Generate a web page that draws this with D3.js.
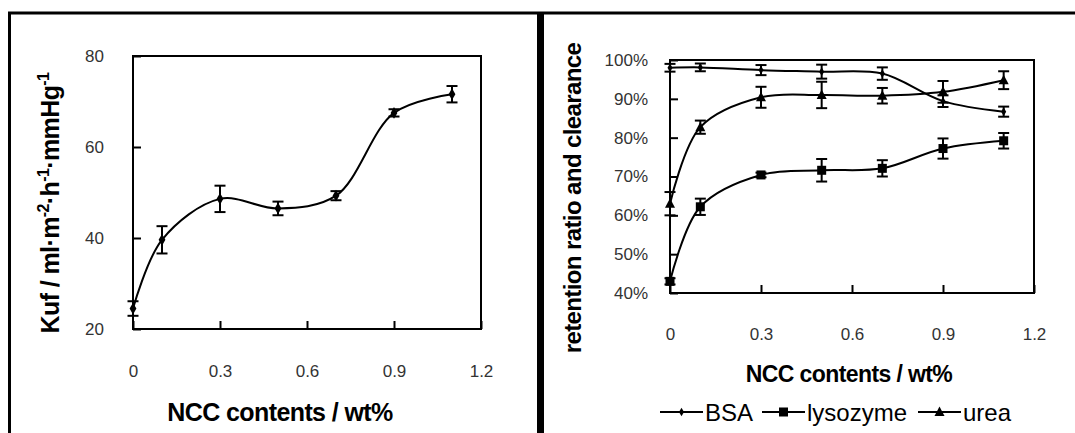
<!DOCTYPE html>
<html>
<head>
<meta charset="utf-8">
<script src="https://cdn.jsdelivr.net/npm/d3@7"></script>
<style>
  body { margin: 0; background: #fff; }
  svg text { font-family: "Liberation Sans", Arial, sans-serif; }
  .tick text { font-size: 17px; fill: #333; }
  .axis path { display: none; }
  .axis line { stroke: #000; stroke-width: 2; }
</style>
</head>
<body>
<script>
// data
var ncc = [0, 0.1, 0.3, 0.5, 0.7, 0.9, 1.1];

var kuf = [24.5, 39.6, 48.6, 46.5, 49.3, 67.5, 71.6];
var kufErr = [1.6, 3.0, 2.9, 1.5, 1.0, 0.8, 1.8];

var bsa = [98.0, 98.1, 97.4, 97.0, 96.5, 89.4, 86.7];
var bsaErr = [1.0, 1.0, 1.3, 1.8, 1.6, 1.5, 1.3];
var lysozyme = [43.0, 62.2, 70.4, 71.6, 72.1, 77.2, 79.2];
var lysozymeErr = [0.8, 2.1, 0.6, 2.9, 2.1, 2.6, 2.0];
var urea = [63.0, 82.7, 90.4, 91.0, 90.8, 91.8, 94.8];
var ureaErr = [3.0, 1.7, 2.7, 3.4, 2.0, 2.8, 2.3];

var xTicks = [0, 0.3, 0.6, 0.9, 1.2];
var kufTicks = [20, 40, 60, 80];
var pctTicks = [40, 50, 60, 70, 80, 90, 100];
var seriesNames = ["BSA", "lysozyme", "urea"];

var W = 1075, H = 433;

var svg = d3.select("body").append("svg")
    .attr("width", W)
    .attr("height", H);

// outer frame lines
svg.append("line").attr("x1", 8).attr("x2", W).attr("y1", 13).attr("y2", 13)
    .attr("stroke", "#000").attr("stroke-width", 3);
svg.append("line").attr("x1", 9.5).attr("x2", 9.5).attr("y1", 12).attr("y2", H)
    .attr("stroke", "#000").attr("stroke-width", 3);
svg.append("line").attr("x1", 540.5).attr("x2", 540.5).attr("y1", 12).attr("y2", H)
    .attr("stroke", "#000").attr("stroke-width", 7);

// marker shapes
function marker(g, type, x, y) {
    if (type == "diamond") {
        g.append("path").attr("d", d3.symbol(d3.symbolDiamond, 40)()).attr("transform", "translate(" + x + "," + y + ")").attr("fill", "#000");
    } else if (type == "smalldiamond") {
        g.append("path").attr("d", d3.symbol(d3.symbolDiamond, 22)()).attr("transform", "translate(" + x + "," + y + ")").attr("fill", "#000");
    } else if (type == "square") {
        g.append("rect").attr("x", x - 4.5).attr("y", y - 4.5).attr("width", 9).attr("height", 9).attr("fill", "#000");
    } else {
        g.append("path").attr("d", "M" + x + "," + (y - 5.5) + "L" + (x + 5) + "," + (y + 4) + "L" + (x - 5) + "," + (y + 4) + "Z").attr("fill", "#000");
    }
}

function drawSeries(g, x, y, vals, errs, type) {
    var pts = ncc.map(function(d, i) { return [x(d), y(vals[i])]; });
    g.append("path")
        .attr("d", d3.line().curve(d3.curveCatmullRom.alpha(0.5))(pts))
        .attr("fill", "none").attr("stroke", "#000").attr("stroke-width", 2);
    ncc.forEach(function(d, i) {
        var cx = x(d), y0 = y(vals[i] - errs[i]), y1 = y(vals[i] + errs[i]);
        g.append("line").attr("x1", cx).attr("x2", cx).attr("y1", y0).attr("y2", y1)
            .attr("stroke", "#000").attr("stroke-width", 2);
        [y0, y1].forEach(function(yy) {
            g.append("line").attr("x1", cx - 5.5).attr("x2", cx + 5.5).attr("y1", yy).attr("y2", yy)
                .attr("stroke", "#000").attr("stroke-width", 2);
        });
        marker(g, type, cx, y(vals[i]));
    });
}

// ---------- left panel ----------
var L = {x0: 133, x1: 481, y0: 56, y1: 329};
var xL = d3.scaleLinear().domain([0, 1.2]).range([L.x0, L.x1]);
var yL = d3.scaleLinear().domain([20, 80]).range([L.y1, L.y0]);

var gl = svg.append("g");
gl.append("g").attr("class", "axis")
    .attr("transform", "translate(0," + L.y1 + ")")
    .call(d3.axisBottom(xL).tickValues(xTicks).tickSizeInner(-8).tickSizeOuter(0).tickPadding(36)
        .tickFormat(function(d) { return d == 0 ? "0" : d3.format(".1f")(d); }));
gl.append("g").attr("class", "axis")
    .attr("transform", "translate(" + L.x0 + ",0)")
    .call(d3.axisLeft(yL).tickValues(kufTicks).tickSizeInner(-8).tickSizeOuter(0).tickPadding(29));
gl.append("rect").attr("x", L.x0).attr("y", L.y0).attr("width", L.x1 - L.x0).attr("height", L.y1 - L.y0)
    .attr("fill", "none").attr("stroke", "#000").attr("stroke-width", 2);

drawSeries(gl, xL, yL, kuf, kufErr, "diamond");

gl.append("text").attr("x", 280).attr("y", 421).attr("text-anchor", "middle")
    .attr("font-size", 25).attr("font-weight", "bold").attr("letter-spacing", -0.6)
    .text("NCC contents / wt%");

var yt = gl.append("text").attr("transform", "translate(59,203) rotate(-90)")
    .attr("text-anchor", "middle").attr("font-size", 25).attr("font-weight", "bold").attr("letter-spacing", -0.6);
yt.append("tspan").text("Kuf / ml·m");
yt.append("tspan").attr("dy", -10).attr("font-size", 16).text("-2");
yt.append("tspan").attr("dy", 10).text("·h");
yt.append("tspan").attr("dy", -10).attr("font-size", 16).text("-1");
yt.append("tspan").attr("dy", 10).text("·mmHg");
yt.append("tspan").attr("dy", -10).attr("font-size", 16).text("-1");

// ---------- right panel ----------
var R = {x0: 670, x1: 1034, y0: 60, y1: 293};
var xR = d3.scaleLinear().domain([0, 1.2]).range([R.x0, R.x1]);
var yR = d3.scaleLinear().domain([40, 100]).range([R.y1, R.y0]);

var gr = svg.append("g");
gr.append("g").attr("class", "axis")
    .attr("transform", "translate(0," + R.y1 + ")")
    .call(d3.axisBottom(xR).tickValues(xTicks).tickSizeInner(-8).tickSizeOuter(0).tickPadding(35)
        .tickFormat(function(d) { return d == 0 ? "0" : d3.format(".1f")(d); }));
gr.append("g").attr("class", "axis")
    .attr("transform", "translate(" + R.x0 + ",0)")
    .call(d3.axisLeft(yR).tickValues(pctTicks).tickSizeInner(-8).tickSizeOuter(0).tickPadding(22)
        .tickFormat(function(d) { return d + "%"; }));
gr.append("rect").attr("x", R.x0).attr("y", R.y0).attr("width", R.x1 - R.x0).attr("height", R.y1 - R.y0)
    .attr("fill", "none").attr("stroke", "#000").attr("stroke-width", 2);

drawSeries(gr, xR, yR, bsa, bsaErr, "smalldiamond");
drawSeries(gr, xR, yR, lysozyme, lysozymeErr, "square");
drawSeries(gr, xR, yR, urea, ureaErr, "triangle");

gr.append("text").attr("x", 849).attr("y", 382).attr("text-anchor", "middle")
    .attr("font-size", 23).attr("font-weight", "bold").attr("letter-spacing", -0.6)
    .text("NCC contents / wt%");
gr.append("text").attr("transform", "translate(581,198) rotate(-90)")
    .attr("text-anchor", "middle").attr("font-size", 24).attr("font-weight", "bold").attr("letter-spacing", -0.6)
    .text("retention ratio and clearance");

// legend
var legX = [660, 762, 918];
var legTypes = ["smalldiamond", "square", "triangle"];
seriesNames.forEach(function(name, i) {
    var lg = gr.append("g");
    lg.append("line").attr("x1", legX[i]).attr("x2", legX[i] + 43).attr("y1", 412).attr("y2", 412)
        .attr("stroke", "#000").attr("stroke-width", 2);
    marker(lg, legTypes[i], legX[i] + 21.5, 412);
    lg.append("text").attr("x", legX[i] + 45).attr("y", 421).attr("font-size", 24).text(name);
});
</script>
</body>
</html>
